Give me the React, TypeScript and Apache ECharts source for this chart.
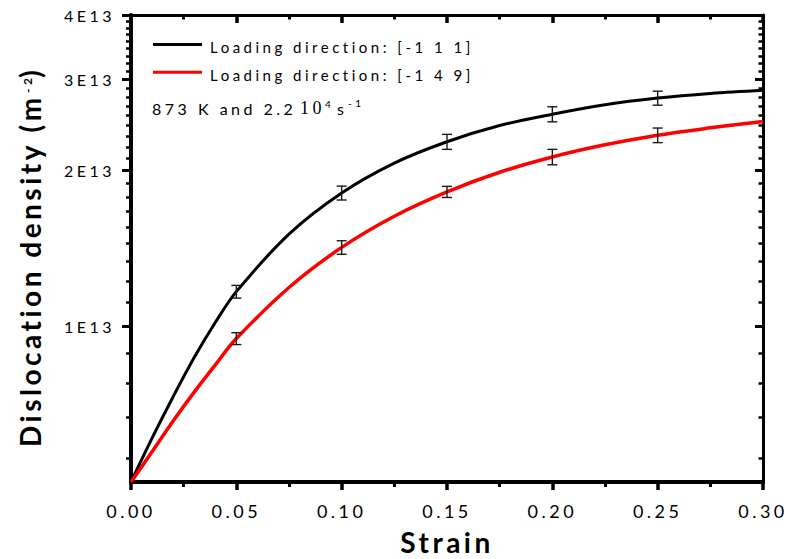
import { useEffect, useRef } from 'react';
import * as echarts from 'echarts';

// ---- data ----
const strainGrid = [0, 0.01, 0.02, 0.03, 0.04, 0.05, 0.075, 0.1, 0.125, 0.15, 0.175, 0.2, 0.225, 0.25, 0.275, 0.3];
const curve111 = [5.0e12, 6.08e12, 7.31e12, 8.7e12, 1.017e13, 1.167e13, 1.508e13, 1.811e13, 2.069e13, 2.275e13, 2.445e13, 2.572e13, 2.683e13, 2.763e13, 2.82e13, 2.86e13];
const curve149 = [5.0e12, 5.72e12, 6.56e12, 7.46e12, 8.42e12, 9.47e12, 1.189e13, 1.421e13, 1.633e13, 1.82e13, 1.986e13, 2.126e13, 2.244e13, 2.342e13, 2.42e13, 2.49e13];

const strainPoints = [0.05, 0.1, 0.15, 0.2, 0.25];
const mean111 = [1.167e13, 1.811e13, 2.275e13, 2.572e13, 2.763e13];
const err111 = [0.033e13, 0.056e13, 0.076e13, 0.086e13, 0.086e13];
const mean149 = [0.947e13, 1.421e13, 1.82e13, 2.126e13, 2.342e13];
const err149 = [0.025e13, 0.043e13, 0.045e13, 0.073e13, 0.076e13];

const yTickValues = [1e13, 2e13, 3e13, 4e13];
const yTickLabels = ['1E13', '2E13', '3E13', '4E13'];
const yMin = 5e12;
const yMax = 4e13;
const xMin = 0;
const xMax = 0.3;
const xStep = 0.05;

const legendNames = ['Loading direction: [-1 1 1]', 'Loading direction: [-1 4 9]'];
const seriesColors = ['#000000', '#ff0000'];

const lg = (v: number) => Math.log10(v);

export default function App() {
  const ref = useRef<HTMLDivElement>(null);

  useEffect(() => {
    const chart = echarts.init(ref.current!, null, { renderer: 'svg' });

    const majorLog = yTickValues.map(lg);
    const minorLog: number[] = [];
    const minorStep = 1e13 / 9;
    for (let k = 1; k <= 4; k++) minorLog.push(lg(1e13 - k * minorStep));
    for (let m = 1; m <= 3; m++) for (let k = 1; k <= 8; k++) minorLog.push(lg(m * 1e13 + k * minorStep));

    const yBase: any = {
      type: 'value',
      min: lg(yMin),
      max: lg(yMax),
      splitLine: { show: false },
      axisLabel: { show: false },
      axisTick: { show: false },
      axisLine: { show: false, onZero: false },
    };

    const font = 'Lato';
    const errData = (means: number[], errs: number[]) =>
      strainPoints.map((x, i) => [x, lg(means[i] - errs[i]), lg(means[i] + errs[i])]);

    const renderErr = (params: any, api: any) => {
      const x = api.value(0);
      const lo = api.coord([x, api.value(1)]);
      const hi = api.coord([x, api.value(2)]);
      const hw = 5;
      const st = { stroke: '#1a1a1a', lineWidth: 1.4 };
      return {
        type: 'group',
        children: [
          { type: 'line', shape: { x1: lo[0], y1: lo[1], x2: hi[0], y2: hi[1] }, style: st },
          { type: 'line', shape: { x1: lo[0] - hw, y1: lo[1], x2: lo[0] + hw, y2: lo[1] }, style: st },
          { type: 'line', shape: { x1: hi[0] - hw, y1: hi[1], x2: hi[0] + hw, y2: hi[1] }, style: st },
        ],
      };
    };

    const txt = (text: string, x: number, y: number, size: number, extra: any = {}) => ({
      type: 'text',
      x,
      y,
      z: 100,
      rotation: extra.rotation || 0,
      style: {
        text,
        fill: '#000',
        fontFamily: extra.family || font,
        fontSize: size,
        fontWeight: extra.weight || 'normal',
        align: 'left',
        textAlign: 'left',
        verticalAlign: 'middle',
        textVerticalAlign: 'middle',
      },
    });

    chart.setOption({
      animation: false,
      backgroundColor: '#ffffff',
      grid: { left: 131, right: 25, top: 15, bottom: 77, containLabel: false, outerBoundsMode: 'none' },
      xAxis: [
        {
          type: 'value',
          position: 'bottom',
          min: xMin,
          max: xMax,
          interval: xStep,
          splitLine: { show: false },
          axisLine: { onZero: false, lineStyle: { color: '#000', width: 4 } },
          axisTick: { length: 8, lineStyle: { color: '#000', width: 3.5 } },
          minorTick: { show: true, splitNumber: 2, length: 5, lineStyle: { color: '#000', width: 3 } },
          axisLabel: {
            formatter: (v: number) => v.toFixed(2),
            margin: 20,
            fontFamily: font,
            fontSize: 18,
            color: '#000',
          },
          name: 'Strain',
          nameLocation: 'middle',
          nameGap: 46,
          nameTextStyle: { fontFamily: font, fontWeight: 'bold', fontSize: 28, color: '#000' },
        },
        {
          type: 'value',
          position: 'top',
          min: xMin,
          max: xMax,
          interval: xStep,
          splitLine: { show: false },
          axisLine: { onZero: false, lineStyle: { color: '#000', width: 3 } },
          axisTick: { inside: true, length: 8, lineStyle: { color: '#000', width: 3.5 } },
          minorTick: { show: true, splitNumber: 2, length: 4.5, lineStyle: { color: '#000', width: 3 } },
          axisLabel: { show: false },
        },
      ],
      yAxis: [
        {
          ...yBase,
          position: 'left',
          axisLine: { show: true, onZero: false, lineStyle: { color: '#000', width: 4 } },
          axisTick: { show: true, customValues: majorLog, length: 9, lineStyle: { color: '#000', width: 3 } },
          axisLabel: {
            show: true,
            customValues: majorLog,
            formatter: (v: number) => {
              const i = majorLog.findIndex((t) => Math.abs(t - v) < 1e-6);
              return i >= 0 ? yTickLabels[i] : '';
            },
            margin: 16,
            fontFamily: font,
            fontSize: 16,
            color: '#000',
          },
        },
        {
          ...yBase,
          position: 'left',
          axisTick: { show: true, customValues: minorLog, length: 5, lineStyle: { color: '#000', width: 2.5 } },
        },
        {
          ...yBase,
          position: 'right',
          axisLine: { show: true, onZero: false, lineStyle: { color: '#000', width: 3 } },
          axisTick: { show: true, inside: true, customValues: majorLog, length: 8, lineStyle: { color: '#000', width: 3 } },
        },
        {
          ...yBase,
          position: 'right',
          axisTick: { show: true, inside: true, customValues: minorLog, length: 4.5, lineStyle: { color: '#000', width: 2.5 } },
        },
      ],
      series: [
        {
          name: legendNames[0],
          type: 'line',
          xAxisIndex: 0,
          yAxisIndex: 0,
          data: strainGrid.map((x, i) => [x, lg(curve111[i])]),
          smooth: 0.35,
          symbol: 'none',
          lineStyle: { color: seriesColors[0], width: 3 },
          z: 3,
        },
        {
          name: legendNames[1],
          type: 'line',
          xAxisIndex: 0,
          yAxisIndex: 0,
          data: strainGrid.map((x, i) => [x, lg(curve149[i])]),
          smooth: 0.35,
          symbol: 'none',
          lineStyle: { color: seriesColors[1], width: 3.5 },
          z: 3,
        },
        {
          type: 'custom',
          xAxisIndex: 0,
          yAxisIndex: 0,
          renderItem: renderErr,
          encode: { x: 0, y: [1, 2] },
          data: errData(mean111, err111),
          z: 5,
        },
        {
          type: 'custom',
          xAxisIndex: 0,
          yAxisIndex: 0,
          renderItem: renderErr,
          encode: { x: 0, y: [1, 2] },
          data: errData(mean149, err149),
          z: 5,
        },
      ],
      graphic: [
        { type: 'line', z: 100, shape: { x1: 153, y1: 44.5, x2: 202, y2: 44.5 }, style: { stroke: seriesColors[0], lineWidth: 3 } },
        { type: 'line', z: 100, shape: { x1: 153, y1: 72.3, x2: 202, y2: 72.3 }, style: { stroke: seriesColors[1], lineWidth: 3 } },
        txt(legendNames[0], 210, 47, 15),
        txt(legendNames[1], 210, 75, 15),
        txt('873 K and 2.2', 152, 108, 16),
        txt('10', 300, 108, 18, { family: 'Liberation Serif' }),
        txt('4', 325, 104, 10),
        txt('s', 337, 108, 16),
        txt('-1', 348, 103, 10),
        txt('Dislocation density (m', 30, 447, 28, { weight: 'bold', rotation: Math.PI / 2 }),
        txt('-2', 27, 93, 12, { weight: 'bold', rotation: Math.PI / 2 }),
        txt(')', 30, 78, 28, { weight: 'bold', rotation: Math.PI / 2 }),
      ],
    });

    return () => chart.dispose();
  }, []);

  return (
    <div
      ref={ref}
      style={{ position: 'absolute', left: 0, top: 0, width: 788, height: 559, letterSpacing: '3.5px' }}
    />
  );
}
